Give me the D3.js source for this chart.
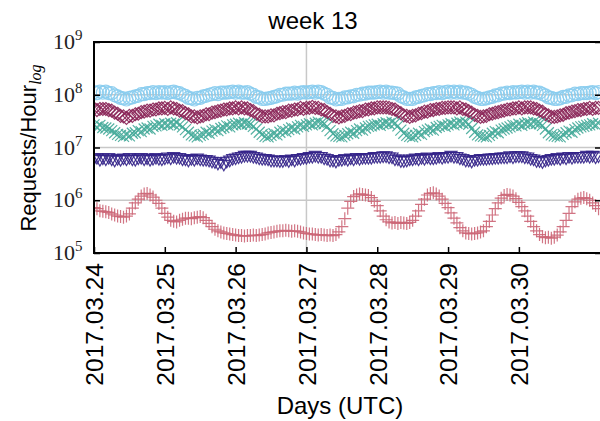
<!DOCTYPE html>
<html>
<head>
<meta charset="utf-8">
<script src="https://cdn.jsdelivr.net/npm/d3@7"></script>
<style>
  body { margin: 0; background: #fff; }
  svg { display: block; }
</style>
</head>
<body>
<svg></svg>
<script>
// データ (log10 の値、1時間ごと、2017.03.24 00:00 UTC から)
var startTime = Date.UTC(2017, 2, 24, 0, 0);
var endTime = Date.UTC(2017, 2, 31, 3, 50);
var tickLabels = ["2017.03.24", "2017.03.25", "2017.03.26", "2017.03.27", "2017.03.28", "2017.03.29", "2017.03.30"];
var yExponents = [5, 6, 7, 8, 9];
var gridExponents = [6, 7, 8];
var weekStart = "2017.03.27";

var cyanLog = [
  8.05,8.03,8.06,8.04,8.06,8.03,8.03,7.99,7.97,7.94,7.93,7.91,7.94,7.95,7.97,7.98,8.01,8.01,8.03,8.03,8.05,8.03,8.05,8.04,
  8.05,8.03,8.05,8.06,8.04,8.03,8.00,7.98,7.94,7.93,7.91,7.94,7.94,7.97,7.98,8.00,8.01,8.03,8.01,8.04,8.04,8.04,8.05,8.06,
  8.04,8.06,8.04,8.04,8.05,8.02,8.00,7.96,7.95,7.92,7.92,7.93,7.94,7.96,7.97,8.00,8.00,8.02,8.02,8.02,8.04,8.02,8.04,8.05,
  8.04,8.05,8.06,8.04,8.06,8.05,8.02,8.00,7.95,7.94,7.91,7.92,7.92,7.95,7.95,7.97,7.97,8.00,8.00,8.02,8.02,8.04,8.04,8.04,
  8.05,8.06,8.04,8.06,8.04,8.04,8.03,8.02,7.97,7.95,7.92,7.92,7.92,7.95,7.96,7.98,7.99,8.01,8.01,8.03,8.03,8.05,8.03,8.05,
  8.06,8.04,8.06,8.04,8.06,8.04,8.04,8.02,8.00,7.96,7.94,7.92,7.92,7.93,7.95,7.96,7.99,7.99,8.02,8.02,8.04,8.03,8.05,8.04,
  8.05,8.06,8.04,8.06,8.04,8.06,8.04,8.04,8.01,7.99,7.95,7.94,7.92,7.92,7.93,7.96,7.96,7.99,7.99,8.02,8.01,8.03,8.03,8.03,
  8.04,8.05,8.03,8.05
];
var wineLog = [
  7.74,7.71,7.73,7.73,7.73,7.71,7.70,7.66,7.64,7.60,7.59,7.56,7.60,7.60,7.63,7.64,7.67,7.68,7.70,7.70,7.72,7.72,7.74,7.74,
  7.75,7.73,7.76,7.74,7.73,7.70,7.69,7.65,7.63,7.59,7.59,7.57,7.59,7.60,7.63,7.63,7.66,7.67,7.69,7.70,7.72,7.72,7.74,7.74,
  7.76,7.74,7.76,7.74,7.74,7.71,7.69,7.64,7.62,7.59,7.59,7.59,7.61,7.61,7.64,7.65,7.67,7.67,7.70,7.70,7.72,7.72,7.75,7.73,
  7.75,7.75,7.77,7.75,7.75,7.72,7.71,7.67,7.64,7.60,7.59,7.57,7.59,7.60,7.63,7.63,7.66,7.67,7.69,7.69,7.72,7.72,7.74,7.74,
  7.76,7.76,7.76,7.76,7.75,7.73,7.72,7.68,7.65,7.61,7.60,7.58,7.60,7.61,7.64,7.65,7.68,7.68,7.71,7.71,7.73,7.73,7.75,7.75,
  7.76,7.76,7.76,7.74,7.76,7.73,7.72,7.69,7.66,7.62,7.60,7.58,7.59,7.60,7.63,7.64,7.66,7.67,7.69,7.70,7.72,7.72,7.74,7.74,
  7.76,7.74,7.76,7.76,7.76,7.74,7.73,7.70,7.68,7.63,7.61,7.58,7.58,7.59,7.61,7.62,7.65,7.66,7.68,7.69,7.71,7.71,7.73,7.73,
  7.75,7.73,7.75,7.75
];
var tealLog = [
  7.43,7.39,7.42,7.38,7.37,7.35,7.32,7.28,7.25,7.23,7.21,7.24,7.22,7.27,7.28,7.32,7.30,7.35,7.37,7.35,7.40,7.41,7.44,7.42,
  7.45,7.43,7.46,7.44,7.47,7.43,7.39,7.34,7.29,7.24,7.22,7.20,7.23,7.25,7.29,7.27,7.31,7.34,7.32,7.36,7.38,7.41,7.39,7.43,
  7.44,7.46,7.44,7.47,7.45,7.44,7.40,7.35,7.29,7.25,7.21,7.20,7.23,7.26,7.24,7.29,7.32,7.30,7.34,7.37,7.35,7.39,7.42,7.40,
  7.43,7.45,7.43,7.46,7.48,7.46,7.45,7.40,7.32,7.26,7.22,7.21,7.20,7.23,7.26,7.29,7.27,7.32,7.35,7.33,7.37,7.40,7.41,7.43,
  7.44,7.42,7.45,7.47,7.45,7.48,7.46,7.41,7.33,7.27,7.23,7.21,7.20,7.23,7.27,7.25,7.30,7.33,7.35,7.33,7.38,7.40,7.42,7.40,
  7.43,7.45,7.43,7.46,7.48,7.46,7.48,7.44,7.36,7.29,7.24,7.22,7.21,7.20,7.23,7.27,7.30,7.28,7.33,7.35,7.37,7.39,7.42,7.41,
  7.44,7.42,7.45,7.47,7.45,7.48,7.46,7.45,7.42,7.35,7.28,7.24,7.22,7.21,7.20,7.25,7.28,7.31,7.29,7.34,7.37,7.39,7.40,7.42,
  7.43,7.45,7.43,7.46
];
var indigoLog = [
  6.78,6.80,6.76,6.79,6.77,6.80,6.77,6.75,6.78,6.76,6.79,6.77,6.80,6.77,6.76,6.79,6.80,6.77,6.79,6.76,6.78,6.80,6.78,6.77,
  6.79,6.81,6.79,6.82,6.80,6.80,6.77,6.77,6.75,6.78,6.76,6.79,6.77,6.76,6.76,6.75,6.73,6.72,6.69,6.72,6.67,6.73,6.75,6.78,
  6.79,6.81,6.82,6.84,6.84,6.84,6.82,6.81,6.79,6.78,6.78,6.77,6.75,6.75,6.75,6.74,6.74,6.76,6.74,6.77,6.75,6.78,6.78,6.80,
  6.80,6.82,6.82,6.84,6.82,6.82,6.79,6.78,6.75,6.75,6.73,6.76,6.76,6.78,6.76,6.79,6.77,6.80,6.78,6.80,6.80,6.80,6.80,6.82,
  6.82,6.82,6.83,6.83,6.81,6.81,6.77,6.77,6.74,6.74,6.75,6.77,6.77,6.79,6.77,6.80,6.78,6.81,6.79,6.79,6.80,6.82,6.80,6.82,
  6.82,6.84,6.82,6.82,6.79,6.78,6.75,6.75,6.73,6.76,6.76,6.78,6.78,6.78,6.79,6.79,6.80,6.80,6.81,6.81,6.81,6.83,6.81,6.83,
  6.83,6.83,6.81,6.81,6.78,6.77,6.74,6.74,6.72,6.75,6.76,6.78,6.78,6.80,6.78,6.81,6.79,6.82,6.80,6.82,6.82,6.82,6.82,6.84,
  6.82,6.84,6.81,6.83
];
var roseLog = [
  5.86,5.84,5.80,5.79,5.78,5.77,5.74,5.72,5.70,5.69,5.68,5.70,5.74,5.85,5.95,6.02,6.08,6.12,6.13,6.10,6.06,6.00,5.94,5.85,
  5.75,5.68,5.62,5.60,5.59,5.62,5.64,5.66,5.66,5.65,5.67,5.68,5.69,5.67,5.62,5.56,5.50,5.45,5.42,5.40,5.38,5.37,5.36,5.35,
  5.34,5.33,5.33,5.32,5.33,5.33,5.34,5.33,5.34,5.35,5.36,5.38,5.39,5.40,5.41,5.42,5.42,5.43,5.42,5.41,5.42,5.41,5.40,5.38,
  5.37,5.36,5.36,5.35,5.34,5.35,5.34,5.33,5.34,5.33,5.35,5.40,5.50,5.65,5.85,5.98,6.07,6.10,6.12,6.11,6.10,6.09,6.05,5.98,
  5.90,5.80,5.70,5.63,5.59,5.57,5.58,5.56,5.58,5.57,5.56,5.58,5.62,5.70,5.80,5.92,6.02,6.10,6.13,6.14,6.12,6.08,6.02,5.94,
  5.86,5.76,5.66,5.57,5.48,5.42,5.38,5.37,5.36,5.37,5.38,5.40,5.42,5.50,5.60,5.72,5.84,5.95,6.04,6.09,6.11,6.10,6.08,6.03,
  5.96,5.88,5.80,5.70,5.60,5.50,5.42,5.35,5.31,5.29,5.30,5.28,5.30,5.34,5.40,5.50,5.62,5.75,5.88,5.97,6.02,6.04,6.05,6.03,
  6.00,5.95,5.90,5.84
];

var seriesList = [
  { values: cyanLog,   color: "#88CCEE", marker: "circle",  r: 6.5 },
  { values: wineLog,   color: "#882255", marker: "diamond", r: 6.5 },
  { values: tealLog,   color: "#44AA99", marker: "x",       r: 5.5 },
  { values: indigoLog, color: "#332288", marker: "tri",     r: 6 },
  { values: roseLog,   color: "#CC6677", marker: "plus",    r: 6.5 }
];

var width = 600, height = 421;
var plotLeft = 94, plotRight = 601, plotTop = 42, plotBottom = 253;

var svg = d3.select("svg").attr("width", width).attr("height", height);

var parseLabel = d3.utcParse("%Y.%m.%d");

var x = d3.scaleUtc()
  .domain([new Date(startTime), new Date(endTime)])
  .range([plotLeft, plotRight]);

var y = d3.scaleLog()
  .domain([1e5, 1e9])
  .range([plotBottom, plotTop]);

function markerPath(kind, r) {
  if (kind == "circle") return d3.symbol(d3.symbolCircle, Math.PI * r * r)();
  if (kind == "diamond") return "M0," + (-r) + "L" + r + ",0L0," + r + "L" + (-r) + ",0Z";
  if (kind == "x") return "M" + (-r) + "," + (-r) + "L" + r + "," + r + "M" + (-r) + "," + r + "L" + r + "," + (-r);
  if (kind == "tri") return "M" + (-r) + "," + (-r * 0.75) + "L" + r + "," + (-r * 0.75) + "L0," + r + "Z";
  return "M" + (-r) + ",0L" + r + ",0M0," + (-r) + "L0," + r;
}

// グリッド
svg.append("g")
  .selectAll("line")
  .data(gridExponents)
  .enter()
  .append("line")
  .attr("x1", plotLeft).attr("x2", plotRight)
  .attr("y1", function(d) { return y(Math.pow(10, d)); })
  .attr("y2", function(d) { return y(Math.pow(10, d)); })
  .attr("stroke", "#c8c8c8")
  .attr("stroke-width", 1.5);

svg.append("line")
  .attr("x1", x(parseLabel(weekStart))).attr("x2", x(parseLabel(weekStart)))
  .attr("y1", plotTop).attr("y2", plotBottom)
  .attr("stroke", "#c8c8c8")
  .attr("stroke-width", 1.5);

// マーカー
svg.append("clipPath").attr("id", "plotclip")
  .append("rect")
  .attr("x", plotLeft).attr("y", plotTop)
  .attr("width", plotRight - plotLeft).attr("height", plotBottom - plotTop);

var plot = svg.append("g").attr("clip-path", "url(#plotclip)");

seriesList.forEach(function(s) {
  var path = markerPath(s.marker, s.r);
  plot.append("g")
    .selectAll("path")
    .data(s.values)
    .enter()
    .append("path")
    .attr("d", path)
    .attr("transform", function(d, i) {
      return "translate(" + x(new Date(startTime + i * 3600000)) + "," + y(Math.pow(10, d)) + ")";
    })
    .attr("fill", "none")
    .attr("stroke", s.color)
    .attr("stroke-width", 1.2)
    .attr("stroke-opacity", 0.9);
});

// 軸
var xAxis = svg.append("g")
  .attr("transform", "translate(0," + plotBottom + ")")
  .call(d3.axisBottom(x)
    .tickValues(tickLabels.map(parseLabel))
    .tickSizeInner(-6)
    .tickSizeOuter(0)
    .tickFormat(function(d, i) { return tickLabels[i]; }));
xAxis.select(".domain").remove();
xAxis.selectAll("line").attr("stroke", "#000").attr("stroke-width", 1.5);
xAxis.selectAll("text")
  .attr("x", -10)
  .attr("y", 0)
  .attr("dy", "0.36em")
  .attr("transform", "rotate(-90)")
  .style("text-anchor", "end")
  .style("font-family", "'Liberation Sans', Arial, sans-serif")
  .style("font-size", "24.5px")
  .attr("fill", "#000");

var yAxis = svg.append("g")
  .attr("transform", "translate(" + plotLeft + ",0)")
  .call(d3.axisLeft(y)
    .tickValues(yExponents.map(function(e) { return Math.pow(10, e); }))
    .tickSizeInner(-6)
    .tickSizeOuter(0)
    .tickFormat(""));
yAxis.select(".domain").remove();
yAxis.selectAll("line").attr("stroke", "#000").attr("stroke-width", 1.5);

var yAxisR = svg.append("g")
  .attr("transform", "translate(" + plotRight + ",0)")
  .call(d3.axisRight(y)
    .tickValues(yExponents.map(function(e) { return Math.pow(10, e); }))
    .tickSizeInner(-6)
    .tickSizeOuter(0)
    .tickFormat(""));
yAxisR.select(".domain").remove();
yAxisR.selectAll("line").attr("stroke", "#000").attr("stroke-width", 1.5);

// y 目盛ラベル 10^n
var yLab = svg.append("g")
  .selectAll("text")
  .data(yExponents)
  .enter()
  .append("text")
  .attr("x", 53)
  .attr("y", function(d) { return y(Math.pow(10, d)) + 7; })
  .style("font-family", "'Liberation Serif', 'Times New Roman', serif")
  .style("font-size", "22px")
  .attr("fill", "#222");
yLab.append("tspan").text("10");
yLab.append("tspan")
  .attr("dy", -9)
  .style("font-size", "15px")
  .text(function(d) { return d; });

// 枠
svg.append("path")
  .attr("d", "M" + plotRight + "," + plotTop + "H" + plotLeft + "V" + plotBottom + "H" + plotRight)
  .attr("fill", "none")
  .attr("stroke", "#000")
  .attr("stroke-width", 2);

// タイトル・ラベル
svg.append("text")
  .attr("x", 313)
  .attr("y", 29)
  .attr("text-anchor", "middle")
  .style("font-family", "'Liberation Sans', Arial, sans-serif")
  .style("font-size", "24px")
  .text("week 13");

svg.append("text")
  .attr("x", 340)
  .attr("y", 414)
  .attr("text-anchor", "middle")
  .style("font-family", "'Liberation Sans', Arial, sans-serif")
  .style("font-size", "24px")
  .text("Days (UTC)");

var yTitle = svg.append("text")
  .attr("transform", "translate(36,148) rotate(-90)")
  .attr("text-anchor", "middle")
  .style("font-family", "'Liberation Sans', Arial, sans-serif")
  .style("font-size", "22px");
yTitle.append("tspan").text("Requests/Hour");
yTitle.append("tspan")
  .attr("dy", 5)
  .style("font-size", "16px")
  .style("font-style", "italic")
  .style("font-family", "'Liberation Serif', serif")
  .text("log");
</script>
</body>
</html>
